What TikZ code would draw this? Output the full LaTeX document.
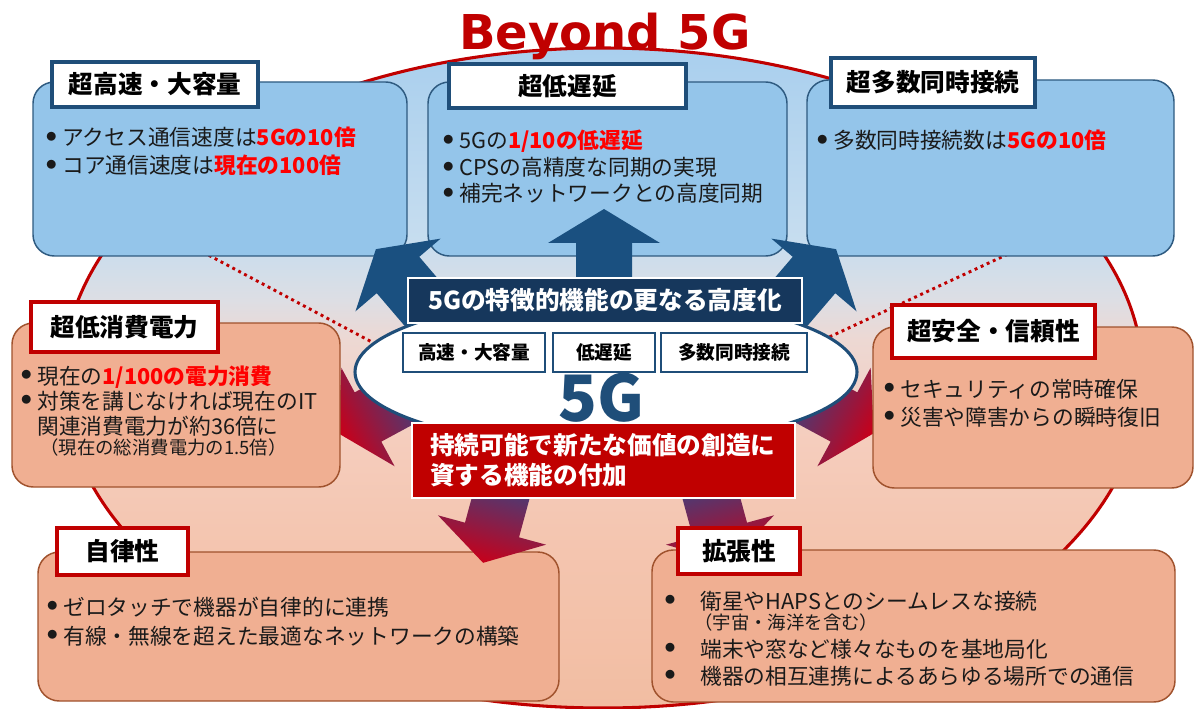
\documentclass[tikz,border=0pt]{standalone}
\usepackage{fontspec}
\setmainfont{Noto Sans CJK JP}
\newfontfamily\latinwide{DejaVu Sans}
\usetikzlibrary{shapes.geometric}

\definecolor{ringred}{HTML}{C00000}
\definecolor{hired}{HTML}{FF0000}
\definecolor{skyfill}{HTML}{94C5EA}
\definecolor{skyline}{HTML}{2E5A80}
\definecolor{navy}{HTML}{1F4E79}
\definecolor{peachfill}{HTML}{F0AF92}
\definecolor{peachline}{HTML}{A0522D}
\definecolor{darkpanel}{HTML}{16375C}
\definecolor{arrowblue}{HTML}{1A5080}
\definecolor{arrowred}{HTML}{C8001A}
\definecolor{tailblue}{HTML}{2B4A8C}
\definecolor{inkgray}{HTML}{1A1A1A}
\definecolor{fadeA}{HTML}{F2BDA2}
\definecolor{fadeB}{HTML}{F4C6B1}
\definecolor{fadeC}{HTML}{F5CDBD}
\definecolor{fadeD}{HTML}{EDD8D3}
\definecolor{fadeE}{HTML}{DDDEE4}
\definecolor{fadeF}{HTML}{C6DDEF}
\definecolor{fadeG}{HTML}{A9CFEE}
\pgfdeclareverticalshading{ringfade}{100bp}{color(0bp)=(fadeA); color(25bp)=(fadeA);
  color(38.5bp)=(fadeB); color(45.3bp)=(fadeC); color(52.9bp)=(fadeD);
  color(55.9bp)=(fadeE); color(60.5bp)=(fadeF); color(75bp)=(fadeG); color(100bp)=(fadeG)}

\newcommand{\itemdot}[1][13.5pt]{\makebox[#1][l]{\hspace{1pt}\raisebox{2.5pt}{$\bullet$}}}
\newcommand{\hilite}[1]{\textcolor{hired}{\bfseries #1}}
\newcommand{\blockarrow}[5]{%
  \begin{scope}[shift={(#1,#2)},rotate=#3]
  \path[#5](-#4,-28)--(0,-28)--(0,-56)--(34,0)--(0,56)--(0,28)--(-#4,28)--cycle;
  \end{scope}}

\begin{document}
\begin{tikzpicture}[x=0.75pt,y=-0.75pt,
  boxsize/.style 2 args={minimum width=0.75*#1pt,minimum height=0.75*#2pt,inner sep=0pt},
  skybox/.style={draw=skyline,line width=1.1pt,fill=skyfill,rounded corners=16pt},
  peachbox/.style={draw=peachline,line width=1.1pt,fill=peachfill,rounded corners=16pt},
  headtag/.style={fill=white,line width=2.3pt,font=\fontsize{18.5}{22}\selectfont\bfseries},
  skytag/.style={headtag,draw=navy},
  peachtag/.style={headtag,draw=ringred},
  keytag/.style={draw=navy,line width=2.2pt,fill=white,font=\fontsize{14}{17}\selectfont\bfseries},
  bodyline/.style={anchor=base west,inner sep=0pt,text=inkgray,font=\fontsize{16.3}{20}\selectfont},
  smallnote/.style={bodyline,font=\fontsize{13.8}{16}\selectfont},
  coolarrow/.style={fill=arrowblue},
  warmarrow/.style={top color=arrowred,bottom color=tailblue,shading angle=#1},
  dotlink/.style={draw=ringred,line width=2.2pt,dash pattern=on 2.2pt off 2.8pt}]
\useasboundingbox(0,0)rectangle(1199,709);
% outer ring
\node[shape=ellipse,boxsize={1080}{660},shade,shading=ringfade,draw=ringred,line width=2.3pt](ring)at(603,378){};
\coordinate(dotL1)at(150,224);
\coordinate(dotL2)at(385,349);
\coordinate(dotR1)at(1062,229);
\coordinate(dotR2)at(825,339);
\draw[dotlink](dotL1)--(dotL2);
\draw[dotlink](dotR1)--(dotR2);
% panels
\node[skybox,boxsize={374}{174}](speed)at(220,169){};
\node[skybox,boxsize={359}{174}](delay)at(607.5,169){};
\node[skybox,boxsize={367}{176}](mass)at(990.5,168){};
\node[peachbox,boxsize={521}{149}](auto)at(298.5,626.5){};
\node[peachbox,boxsize={523}{152}](expand)at(913.5,626){};
% arrows
\blockarrow{604}{243}{90}{90}{coolarrow}
\blockarrow{398}{275}{130.5}{80}{coolarrow}
\blockarrow{814}{275}{49.5}{80}{coolarrow}
\blockarrow{368}{417}{208.4}{60}{warmarrow=118.4}
\blockarrow{844}{417}{331.6}{60}{warmarrow=241.6}
\blockarrow{492}{530}{254.8}{60}{warmarrow=164.8}
\blockarrow{720}{530}{285.2}{60}{warmarrow=195.2}
\node[peachbox,boxsize={328}{164}](power)at(176,405){};
\node[peachbox,boxsize={320}{161}](safe)at(1033,407.5){};
% 5G core
\node[shape=ellipse,boxsize={502}{150},draw=navy,line width=2.3pt,fill=white](core)at(606,372){};
\node[fill=darkpanel,draw=white,line width=1.1pt,boxsize={394}{45},text=white,font=\fontsize{18.5}{22}\selectfont\bfseries](boost)at(605,300.5){5Gの特徴的機能の更なる高度化};
\node[keytag,boxsize={142}{39}](kspeed)at(474,352.5){高速・大容量};
\node[keytag,boxsize={102}{39}](kdelay)at(604,352.5){低遅延};
\node[keytag,boxsize={146}{39}](kmass)at(734,352.5){多数同時接続};
\node[text=navy,font=\bfseries\fontsize{48}{52}\selectfont](fiveg)at(601,398){5G};
\node[fill=ringred,draw=white,line width=1.1pt,boxsize={383}{75}](value)at(603.5,460.5){};
\node[anchor=west,align=left,inner sep=0pt,text=white,font=\fontsize{18.5}{22.5}\selectfont\bfseries](valuetext)at(430,460.5){持続可能で新たな価値の創造に\\資する機能の付加};
% tags
\node[skytag,boxsize={206}{45}](speedtag)at(155,84.5){超高速・大容量};
\node[skytag,boxsize={237}{44}](delaytag)at(567.5,86){超低遅延};
\node[skytag,boxsize={204}{49}](masstag)at(933,82.5){超多数同時接続};
\node[peachtag,boxsize={187}{50}](powertag)at(124.5,327){超低消費電力};
\node[peachtag,boxsize={203}{53}](safetag)at(993.5,331.5){超安全・信頼性};
\node[peachtag,boxsize={131}{47}](autotag)at(122.5,551.5){自律性};
\node[peachtag,boxsize={122}{46}](expandtag)at(739,551){拡張性};
% texts
\node[bodyline](speed1)at(44,146){\itemdot アクセス通信速度は\hilite{5Gの10倍}};
\node[bodyline](speed2)at(44,174){\itemdot コア通信速度は\hilite{現在の100倍}};
\node[bodyline](delay1)at(441,149){\itemdot 5Gの\hilite{1/10の低遅延}};
\node[bodyline](delay2)at(441,176){\itemdot CPSの高精度な同期の実現};
\node[bodyline](delay3)at(441,202){\itemdot 補完ネットワークとの高度同期};
\node[bodyline](mass1)at(815,149){\itemdot 多数同時接続数は\hilite{5Gの10倍}};
\node[bodyline](power1)at(19,384){\itemdot 現在の\hilite{1/100の電力消費}};
\node[bodyline](power2)at(19,409){\itemdot 対策を講じなければ現在のIT};
\node[bodyline](power3)at(37,434){関連消費電力が約36倍に};
\node[smallnote](power4)at(40,454){（現在の総消費電力の1.5倍）};
\node[bodyline](safe1)at(882,397){\itemdot セキュリティの常時確保};
\node[bodyline](safe2)at(882,425){\itemdot 災害や障害からの瞬時復旧};
\node[bodyline](auto1)at(45,615){\itemdot ゼロタッチで機器が自律的に連携};
\node[bodyline](auto2)at(45,644){\itemdot 有線・無線を超えた最適なネットワークの構築};
\node[bodyline](expand1)at(662.7,609){\itemdot[28pt]衛星やHAPSとのシームレスな接続};
\node[smallnote](expand2)at(694,629){（宇宙・海洋を含む）};
\node[bodyline](expand3)at(662.7,657){\itemdot[28pt]端末や窓など様々なものを基地局化};
\node[bodyline](expand4)at(662.7,684){\itemdot[28pt]機器の相互連携によるあらゆる場所での通信};
\node[anchor=base,text=ringred,font=\latinwide\bfseries\fontsize{36}{40}\selectfont](headline)at(605,50){Beyond 5G};
\end{tikzpicture}
\end{document}
